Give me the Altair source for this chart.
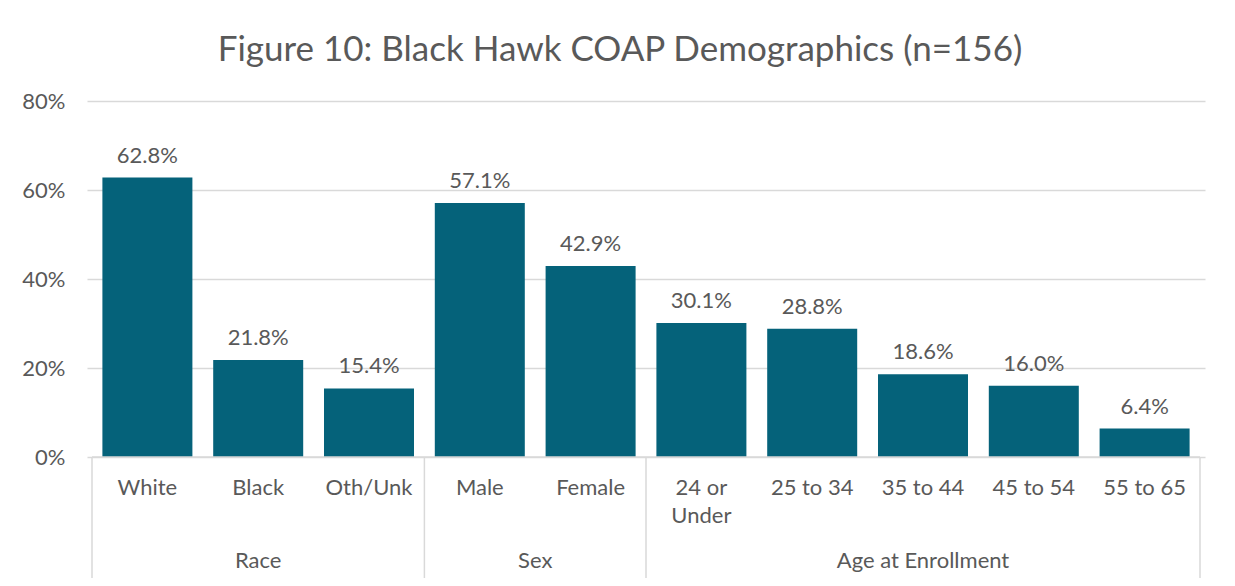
import altair as alt
import pandas as pd

categories = ["White", "Black", "Oth/Unk", "Male", "Female",
              "24 or\nUnder", "25 to 34", "35 to 44", "45 to 54", "55 to 65"]
values = [62.8, 21.8, 15.4, 57.1, 42.9, 30.1, 28.8, 18.6, 16.0, 6.4]
groups = ["Race", "Sex", "Age at Enrollment"]
group_sizes = [3, 2, 5]
y_ticks = [0, 0.2, 0.4, 0.6, 0.8]

W, H = 1118, 356
FONT = "Lato"
GRAY = "#595959"
LINE = "#d9d9d9"
BAR = "#05627A"

bars_df = pd.DataFrame({
    "pos": [i + 0.5 for i in range(len(categories))],
    "cat": categories,
    "val": [v / 100 for v in values],
    "lbl": [f"{v:.1f}%" for v in values],
})

starts = []
s = 0
for n in group_sizes:
    starts.append(s)
    s += n
groups_df = pd.DataFrame({
    "group": groups,
    "mid": [st + n / 2 for st, n in zip(starts, group_sizes)],
})
bounds_df = pd.DataFrame({"b": starts + [s]})

xs = alt.Scale(domain=[0, len(categories)], nice=False, zero=False)
ys = alt.Scale(domain=[0, 0.8], nice=False)

base = alt.Chart(bars_df)

bars = base.mark_bar(size=90, color=BAR).encode(
    x=alt.X("pos:Q", scale=xs, axis=None),
    y=alt.Y("val:Q", scale=ys, axis=alt.Axis(
        values=y_ticks, format=".0%", title=None, domain=False, ticks=False,
        grid=True, gridColor=LINE, gridWidth=1.5, labelFont=FONT,
        labelFontSize=22, labelColor=GRAY, labelPadding=22)),
)

labels = base.mark_text(font=FONT, fontSize=22, color=GRAY,
                        baseline="alphabetic", dy=-15).encode(
    x=alt.X("pos:Q", scale=xs), y=alt.Y("val:Q", scale=ys), text="lbl:N")

ticklabels = base.mark_text(font=FONT, fontSize=22, color=GRAY,
                            baseline="alphabetic", lineBreak="\n",
                            lineHeight=28).encode(
    x=alt.X("pos:Q", scale=xs), y=alt.value(H + 38), text="cat:N")

axisline = alt.Chart(pd.DataFrame({"a": [0], "b": [len(categories)]})).mark_rule(
    color=LINE, strokeWidth=1.5).encode(
    x=alt.X("a:Q", scale=xs), x2="b:Q", y=alt.value(H))

seps = alt.Chart(bounds_df).mark_rule(color=LINE, strokeWidth=1.5).encode(
    x=alt.X("b:Q", scale=xs), y=alt.value(H), y2=alt.value(H + 125))

glabels = alt.Chart(groups_df).mark_text(font=FONT, fontSize=22, color=GRAY,
                                         baseline="alphabetic").encode(
    x=alt.X("mid:Q", scale=xs), y=alt.value(H + 111), text="group:N")

chart = alt.layer(bars, labels, ticklabels, axisline, seps, glabels).properties(
    width=W, height=H,
    autosize=alt.AutoSizeParams(type="none"),
    padding={"left": 79, "top": 93, "right": 22, "bottom": 121},
    title=alt.TitleParams("Figure 10: Black Hawk COAP Demographics (n=156)",
                          font=FONT, fontSize=35, fontWeight="normal",
                          color=GRAY, anchor="middle", offset=22, dx=-26),
).configure_view(stroke=None)

chart.save("out.html", embed_options={"renderer": "svg", "actions": False})
